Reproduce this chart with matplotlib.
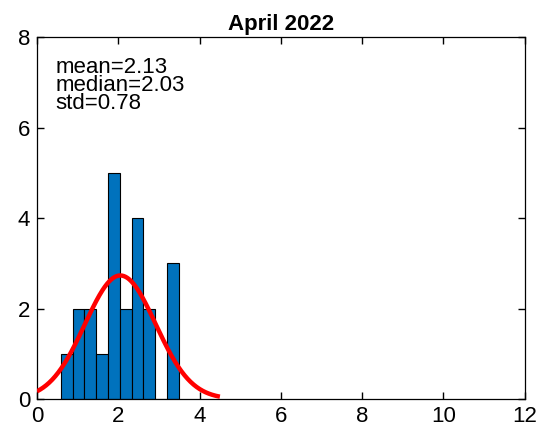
import numpy as np
import matplotlib
matplotlib.use("Agg")
import matplotlib.pyplot as plt

# ==================== data ====================
bin_edges = [0.583, 0.874, 1.165, 1.456, 1.747, 2.038, 2.329, 2.620, 2.911, 3.202, 3.493]
counts = [1, 2, 2, 1, 5, 2, 4, 2, 0, 3]

fit_mu = 2.05        # centre of the fitted normal curve
fit_sigma = 0.87     # spread of the fitted normal curve
fit_peak = 2.73      # height of the curve at its centre
fit_range = (0.0, 4.5)

stats_lines = ["mean=2.13", "median=2.03", "std=0.78"]
title = "April 2022"
x_ticks = [0, 2, 4, 6, 8, 10, 12]
y_ticks = [0, 2, 4, 6, 8]

# ==================== plot ====================
plt.rcParams['font.family'] = ['Liberation Sans', 'DejaVu Sans']

fig = plt.figure(figsize=(5.36, 4.33), dpi=100)
ax = fig.add_axes([0.069, 0.0785, 0.910, 0.836])

edges = np.array(bin_edges)
ax.bar(edges[:-1], counts, width=np.diff(edges), align='edge',
       color='#0072BD', edgecolor='black', linewidth=0.8, zorder=2)

xs = np.linspace(fit_range[0], fit_range[1], 300)
ys = fit_peak * np.exp(-0.5 * ((xs - fit_mu) / fit_sigma) ** 2)
ax.plot(xs, ys, color='red', linewidth=3.2, zorder=3, solid_capstyle='butt')

ax.set_xlim(0, 12)
ax.set_ylim(0, 8)
ax.set_xticks(x_ticks)
ax.set_yticks(y_ticks)
ax.tick_params(direction='in', length=5, width=1, labelsize=16,
               top=True, right=True, pad=5)
for sp in ax.spines.values():
    sp.set_linewidth(0.9)

ax.set_title(title, fontsize=16, fontweight='bold', pad=5)

# stats, one line each (tight MATLAB-like spacing)
for i, line in enumerate(stats_lines):
    ax.text(0.45, 7.20 - 0.40 * i, line, fontsize=16, va='baseline',
            ha='left', zorder=4)

fig.savefig("out.png", dpi=100)
